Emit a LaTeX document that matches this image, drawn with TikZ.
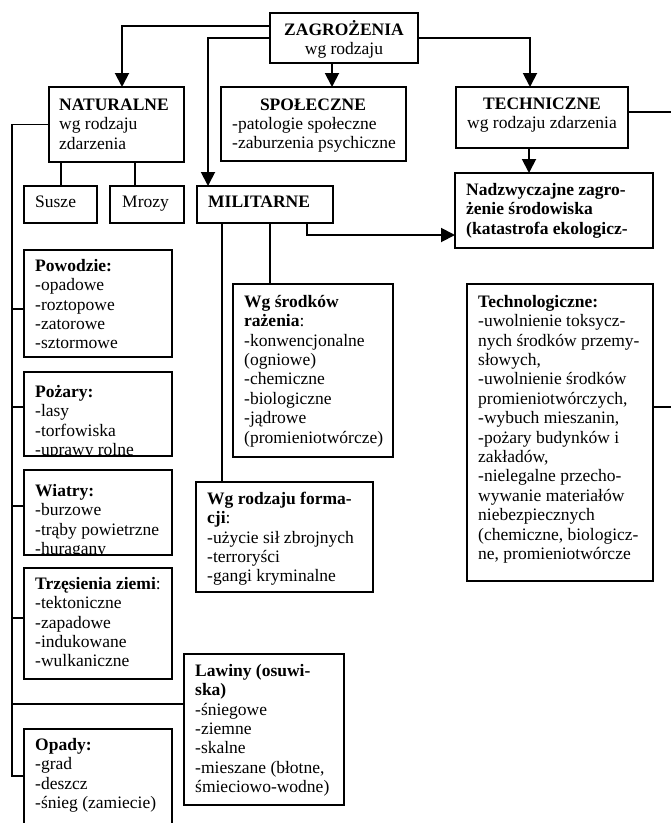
\documentclass[tikz,border=0pt]{standalone}
\usepackage{fontspec}
\setmainfont{Liberation Serif}
\usetikzlibrary{arrows.meta,calc}
\newcommand\fs{\fontsize{17.5}{19.4}\selectfont}
\newcommand\st{\rule{0pt}{16pt}}
\begin{document}
\begin{tikzpicture}[x=1pt,y=-1pt,
  box/.style={draw, line width=2pt, inner sep=0pt, outer sep=0pt, anchor=north west},
  tx/.style={anchor=north west, inner sep=0pt, align=left, font=\fs},
  one/.style={anchor=base west, inner sep=0pt, font=\fs},
  ln/.style={line width=1.9pt},
  arr/.style={ln, -{Triangle[length=14pt,width=14pt]}}]
\useasboundingbox (0,0) rectangle (671,823);
\fill[white] (0,0) rectangle (671,823);
\clip (0,0) rectangle (671,823);

% top
\node[box, minimum width=148pt, minimum height=50pt] (zag) at (270,13) {};
\node[tx, align=center, anchor=north] (zagt) at (344,19) {\st\textbf{ZAGROŻENIA}\\wg rodzaju};

\node[box, minimum width=135pt, minimum height=75pt] (nat) at (49,87) {};
\node[tx] (natt) at (59,94) {\st\textbf{NATURALNE}\\wg rodzaju\\zdarzenia};

\node[box, minimum width=185pt, minimum height=74pt] (spo) at (221,87) {};
\node[one, anchor=base] (spot) at (313,110) {\textbf{SPOŁECZNE}};
\node[tx] (spol) at (232,113) {\st-patologie społeczne\\-zaburzenia psychiczne};

\node[box, minimum width=172pt, minimum height=61pt] (tec) at (456,87) {};
\node[tx, align=center, anchor=north] (tect) at (542,93) {\st\textbf{TECHNICZNE}\\wg rodzaju zdarzenia};

\node[box, minimum width=73pt, minimum height=37pt] (sus) at (24,186) {};
\node[one] (sust) at (35,207) {Susze};
\node[box, minimum width=74pt, minimum height=37pt] (mro) at (110,186) {};
\node[one] (mrot) at (122,207) {Mrozy};
\node[box, minimum width=136pt, minimum height=37pt] (mil) at (197,186) {};
\node[one] (milt) at (208,207) {\textbf{MILITARNE}};

\node[box, minimum width=198pt, minimum height=75pt] (nad) at (455,173) {};
\node[tx, font=\fs\bfseries] (nadt) at (466,179) {\st Nadzwyczajne zagro-\\żenie środowiska\\(katastrofa ekologicz-};

% military
\node[box, minimum width=160pt, minimum height=173pt] (sro) at (233,284) {};
\node[tx] (srot) at (244,291) {\st\textbf{Wg środków}\\\textbf{rażenia}:\\-konwencjonalne\\(ogniowe)\\-chemiczne\\-biologiczne\\-jądrowe\\(promieniotwórcze)};

\node[box, minimum width=177pt, minimum height=110pt] (frm) at (196,482) {};
\node[tx] (frmt) at (207,488) {\st\textbf{Wg rodzaju forma-}\\\textbf{cji}:\\-użycie sił zbrojnych\\-terroryści\\-gangi kryminalne};

% technological
\node[box, minimum width=186pt, minimum height=297pt] (tch) at (467,284) {};
\node[tx] (tcht) at (478,291) {\st\textbf{Technologiczne:}\\-uwolnienie toksycz-\\nych środków przemy-\\słowych,\\-uwolnienie środków\\promieniotwórczych,\\-wybuch mieszanin,\\-pożary budynków i\\zakładów,\\-nielegalne przecho-\\wywanie materiałów\\niebezpiecznych\\(chemiczne, biologicz-\\ne, promieniotwórcze};

% natural
\node[box, minimum width=148pt, minimum height=107pt] (pow) at (24,250) {};
\node[tx] (powt) at (35,255) {\st\textbf{Powodzie:}\\-opadowe\\-roztopowe\\-zatorowe\\-sztormowe};

\node[box, minimum width=148pt, minimum height=84pt] (poz) at (24,372) {};
\begin{scope}
\clip (poz.north west) rectangle (poz.south east);
\node[tx] (pozt) at (35,381) {\st\textbf{Pożary:}\\-lasy\\-torfowiska\\-uprawy rolne};
\end{scope}

\node[box, minimum width=148pt, minimum height=85pt] (wia) at (24,470) {};
\begin{scope}
\clip (wia.north west) rectangle (wia.south east);
\node[tx] (wiat) at (35,480) {\st\textbf{Wiatry:}\\-burzowe\\-trąby powietrzne\\-huragany};
\end{scope}

\node[box, minimum width=148pt, minimum height=111pt] (trz) at (24,568) {};
\node[tx] (trzt) at (35,573) {\st\textbf{Trzęsienia ziemi}:\\-tektoniczne\\-zapadowe\\-indukowane\\-wulkaniczne};

\node[box, minimum width=160pt, minimum height=151pt] (law) at (184,654) {};
\node[tx] (lawt) at (195,660) {\st\textbf{Lawiny (osuwi-}\\\textbf{ska)}\\-śniegowe\\-ziemne\\-skalne\\-mieszane (błotne,\\śmieciowo-wodne)};

\node[box, minimum width=148pt, minimum height=130pt] (opa) at (24,729) {};
\node[tx] (opat) at (35,734) {\st\textbf{Opady:}\\-grad\\-deszcz\\-śnieg (zamiecie)};

% connectors
\draw[arr] ($(zag.north west)+(0,13)$) -| ($(nat.north west)+(73,0)$);
\draw[arr] (zag.west) -| ($(mil.north west)+(11,0)$);
\draw[arr] ($(zag.south west)+(62,0)$) -- ($(spo.north west)+(111,0)$);
\draw[arr] (zag.east) -| ($(tec.north west)+(74,0)$);
\draw[arr] ($(tec.south west)+(73,0)$) -- ($(nad.north west)+(74,0)$);
\draw[ln] ($(tec.north east)+(0,25)$) -- ++(50,0);
\draw[ln] ($(tch.north east)+(0,123)$) -- ++(30,0);

\coordinate (c1) at ($(sus.north west)+(37,0)$);
\draw[ln] (c1) -- (c1 |- nat.south);
\coordinate (c2) at ($(mro.north west)+(25,0)$);
\draw[ln] (c2) -- (c2 |- nat.south);
\coordinate (c3) at ($(frm.north west)+(26,0)$);
\draw[ln] (c3) -- (c3 |- mil.south);
\coordinate (c4) at ($(sro.north west)+(37,0)$);
\draw[ln] (c4) -- (c4 |- mil.south);
\coordinate (c5) at ($(mil.south west)+(110,0)$);
\draw[arr] (c5) |- ($(nad.north west)+(0,62)$);

\draw[ln] (nat.west) -- ++(-37,0) |- ($(opa.north west)+(0,47)$);
\draw[ln] ($(pow.north west)+(0,59)$) -- ++(-12,0);
\draw[ln] ($(poz.north west)+(0,35)$) -- ++(-12,0);
\draw[ln] ($(wia.north west)+(0,36)$) -- ++(-12,0);
\draw[ln] ($(trz.north west)+(0,50)$) -- ++(-12,0);
\draw[ln] ($(law.north west)+(0,50)$) -- ++(-172,0);
\end{tikzpicture}
\end{document}
